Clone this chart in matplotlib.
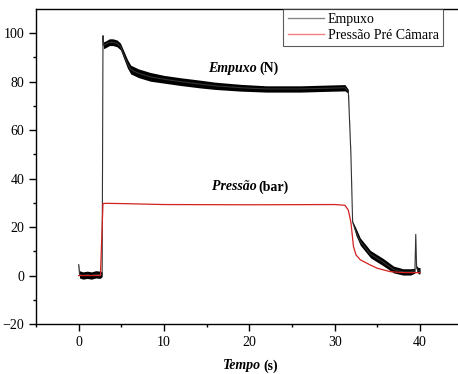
import matplotlib
matplotlib.use("Agg")
import matplotlib.pyplot as plt
from matplotlib.lines import Line2D
import numpy as np

plt.rcParams['font.family'] = ['Liberation Serif', 'DejaVu Serif']

# Empuxo (thrust) centre line
empuxo_t = [0.0, 0.1, 0.5, 1.0, 1.5, 2.0, 2.5, 2.75, 2.85, 2.9, 3.2, 3.6, 4.0, 4.5,
            4.9, 5.3, 5.7, 6.1, 7.0, 8.4, 10.0, 12.0, 14.3, 16.0, 19.0, 22.0,
            26.0, 29.0, 31.2, 31.6, 31.9, 32.1, 32.5, 33.0, 34.2, 35.7, 36.9,
            38.0, 38.9, 39.4, 39.5, 39.6, 39.8, 40.0]
empuxo_v = [4.5, 0.5, 0.0, 0.3, 0.0, 0.5, 0.3, 0.5, 99.0, 95.0, 95.5, 96.3, 96.3, 95.8,
            94.5, 91.0, 87.5, 85.0, 83.5, 82.0, 81.0, 80.0, 79.0, 78.3, 77.5, 77.0,
            77.0, 77.3, 77.5, 76.0, 50.0, 22.0, 18.0, 14.0, 8.8, 5.5, 2.5,
            1.5, 1.5, 2.0, 17.0, 3.0, 2.0, 2.0]
# half-width of the noise band around the thrust line
empuxo_noise = [0.3, 1.5, 1.5, 1.5, 1.5, 1.5, 1.5, 1.0, 0.3, 1.4, 1.4, 1.4, 1.4, 1.4,
                1.4, 1.6, 1.8, 1.8, 1.8, 1.8, 1.6, 1.6, 1.6, 1.5, 1.4, 1.3,
                1.3, 1.3, 1.3, 0.8, 0.3, 0.5, 1.5, 1.5, 1.5, 1.5, 1.4,
                1.3, 1.3, 1.0, 0.0, 1.0, 1.3, 1.3]

# Pressão pré câmara
pressao_t = [0.0, 2.55, 2.75, 2.85, 3.2, 5.0, 10.0, 20.0, 30.0, 31.2, 31.6, 31.9,
             32.2, 32.5, 33.0, 34.2, 35.0, 36.5, 38.0, 40.0]
pressao_v = [0.0, 0.0, 20.0, 29.7, 29.8, 29.7, 29.3, 29.2, 29.3, 29.0, 27.0, 22.0,
             12.0, 8.5, 6.5, 4.3, 3.0, 1.6, 1.2, 1.2]

xticks = [0, 10, 20, 30, 40]
yticks = [-20, 0, 20, 40, 60, 80, 100]

fig = plt.figure(figsize=(4.58, 3.74), dpi=100)
ax = fig.add_axes([36/458, 1-324/374, 1-36/458, (324-9)/374])

et = np.array(empuxo_t); ev = np.array(empuxo_v); en = np.array(empuxo_noise)
ax.fill_between(et, ev-en, ev+en, color='black', lw=0)
ax.plot(et, ev, color='#333333', lw=0.8)
ax.plot(pressao_t, pressao_v, color='#d42020', lw=0.9)

ax.set_xlim(-4.92, 44.45)
ax.set_ylim(-20, 110)
ax.set_xticks(xticks)
ax.set_yticks(yticks)
ax.set_xticks([-5, 5, 15, 25, 35], minor=True)
ax.set_yticks([-10, 10, 30, 50, 70, 90], minor=True)
ax.tick_params(which='major', direction='out', length=5, width=1, labelsize=10)
ax.tick_params(which='minor', direction='out', length=2.5, width=1)
ax.spines['right'].set_visible(False)
for s in ['left', 'bottom', 'top']:
    ax.spines[s].set_linewidth(1)

fs = 10
t1 = ax.text(20.9, 85.5, 'Empuxo', fontsize=fs, fontstyle='italic', fontweight='bold',
             ha='right', va='center')
ax.annotate('(N)', xy=(1, 0.5), xycoords=t1, xytext=(1.5, 0), textcoords='offset points',
            fontsize=fs, fontweight='bold', ha='left', va='center')
t2 = ax.text(20.85, 36.6, 'Pressão', fontsize=fs, fontstyle='italic', fontweight='bold',
             ha='right', va='center')
ax.annotate('(bar)', xy=(1, 0.5), xycoords=t2, xytext=(1.5, 0), textcoords='offset points',
            fontsize=fs, fontweight='bold', ha='left', va='center')

t3 = fig.text(261/458, 1-366/374, 'Tempo', fontsize=fs, fontstyle='italic',
              fontweight='bold', ha='right', va='center')
ax.annotate('(s)', xy=(1, 0.5), xycoords=t3, xytext=(1.5, 0), textcoords='offset points',
            fontsize=fs, fontweight='bold', ha='left', va='center', annotation_clip=False)

handles = [Line2D([], [], color='#888888', lw=1), Line2D([], [], color='#f08080', lw=1)]
leg = ax.legend(handles, ['Empuxo', 'Pressão Pré Câmara'], loc='upper right',
                frameon=True, fancybox=False, fontsize=10, handlelength=2.6,
                borderpad=0.3, labelspacing=0.2, handletextpad=0.3, borderaxespad=0)
leg.get_frame().set_edgecolor('#333333')
leg.get_frame().set_linewidth(0.8)
leg.set_bbox_to_anchor((443/458, 1-9/374), transform=fig.transFigure)

fig.savefig('out.png', dpi=100)
